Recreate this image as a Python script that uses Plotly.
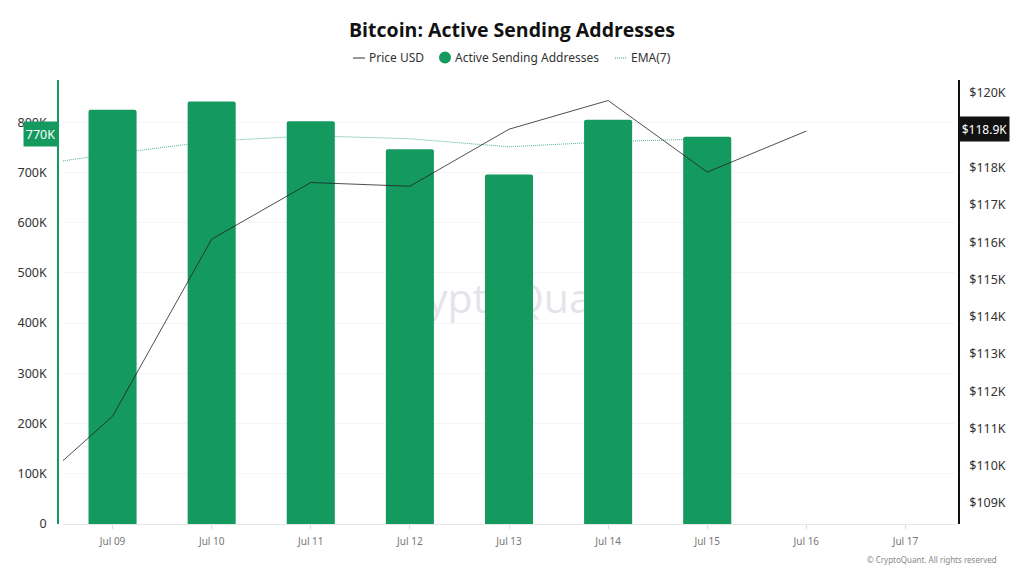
import plotly.graph_objects as go

# values
bar_dates = ['2025-07-09', '2025-07-10', '2025-07-11', '2025-07-12', '2025-07-13', '2025-07-14', '2025-07-15']
active_addresses = [825000, 841000, 802000, 746000, 696000, 805000, 771000]

price_dates = ['2025-07-08', '2025-07-09', '2025-07-10', '2025-07-11', '2025-07-12', '2025-07-13',
               '2025-07-14', '2025-07-15', '2025-07-16']
price_usd = [108950, 111330, 116080, 117600, 117500, 119030, 119800, 117880, 118980]

ema_dates = ['2025-07-08', '2025-07-09', '2025-07-10', '2025-07-11', '2025-07-12', '2025-07-13',
             '2025-07-14', '2025-07-15']
ema_7 = [709000, 737000, 762000, 773000, 767000, 751000, 761000, 767000]

left_ticks = [0, 100000, 200000, 300000, 400000, 500000, 600000, 700000, 800000]
left_labels = ['0', '100K', '200K', '300K', '400K', '500K', '600K', '700K', '800K']
right_ticks = [109000, 110000, 111000, 112000, 113000, 114000, 115000, 116000, 117000, 118000, 119000, 120000]
right_labels = ['$109K', '$110K', '$111K', '$112K', '$113K', '$114K', '$115K', '$116K', '$117K', '$118K', '', '$120K']

GREEN = '#14995f'
EMA_COLOR = '#2a9d78'
LEFT_RANGE = [0, 884000]
RIGHT_RANGE = [108440, 120350]
TICK_FONT = dict(family='Noto Sans', size=12.5, color='#333333')
LEGEND_FONT = dict(family='Noto Sans', size=12, color='#333333')


# plot area runs 63-955 across and 80-524 down
def px_x(px):
    return (px - 63) / 892


def px_y(py):
    return (524 - py) / 444


fig = go.Figure()

# EMA sits on the base axis so the bars cover it
fig.add_trace(go.Scatter(x=ema_dates, y=ema_7, name='EMA(7)', mode='lines', yaxis='y',
                         line=dict(color=EMA_COLOR, width=0.8, dash='1px,1px')))
fig.add_trace(go.Bar(x=bar_dates, y=active_addresses, name='Active Sending Addresses', yaxis='y2',
                     marker=dict(color=GREEN, line=dict(width=0)), width=0.485 * 86400000))
fig.add_trace(go.Scatter(x=price_dates, y=price_usd, name='Price USD', mode='lines', yaxis='y3',
                         line=dict(color='#222222', width=0.8)))


def legend_text(text, px):
    return dict(text=text, xref='paper', x=px_x(px), xanchor='left', yref='paper', y=px_y(57.5),
                yanchor='middle', showarrow=False, font=LEGEND_FONT, borderpad=0)


fig.update_layout(
    width=1024,
    height=576,
    margin=dict(l=63, r=69, t=80, b=52),
    paper_bgcolor='white',
    plot_bgcolor='white',
    barcornerradius=2,
    showlegend=False,
    title=dict(text='<b>Bitcoin: Active Sending Addresses</b>', x=0.5, xref='container', xanchor='center',
               y=0.948, yref='container', yanchor='middle',
               font=dict(family='Open Sans', size=19.5, color='#111111')),
    xaxis=dict(type='date', range=['2025-07-08 12:00', '2025-07-17 12:00'], dtick=86400000,
               tickformat='%b %d', ticks='outside', ticklen=4, tickcolor='#dddddd', ticklabelstandoff=4,
               tickfont=dict(family='Noto Sans', size=10, color='#777777'),
               showline=True, linecolor='#e6e6e6', showgrid=False, zeroline=False),
    yaxis=dict(range=LEFT_RANGE, tickvals=left_ticks, ticktext=left_labels, tickfont=TICK_FONT,
               gridcolor='#f5f5f5', zeroline=False, showline=True, linecolor=GREEN, linewidth=1.5,
               anchor='free', position=0, shift=-5, ticklabelstandoff=8),
    yaxis2=dict(range=LEFT_RANGE, overlaying='y', visible=False),
    yaxis3=dict(range=RIGHT_RANGE, tickvals=right_ticks, ticktext=right_labels, tickfont=TICK_FONT,
                overlaying='y', side='right', showgrid=False, zeroline=False, showline=True,
                linecolor='#111111', linewidth=1.5, anchor='free', position=1, shift=4,
                ticklabelstandoff=7),
    annotations=[
        dict(text='770K', xref='paper', x=px_x(58), xanchor='right', yref='y', y=777000, showarrow=False,
             bgcolor=GREEN, font=dict(family='Noto Sans', size=12.5, color='white'), width=31, height=22),
        dict(text='$118.9K', xref='paper', x=px_x(959), xanchor='left', yref='y3', y=119030, showarrow=False,
             bgcolor='#111111', font=dict(family='Noto Sans', size=12, color='white'), width=47, height=22),
        dict(text='© CryptoQuant. All rights reserved', xref='paper', x=px_x(999), xanchor='right',
             yref='paper', y=px_y(559), yanchor='middle', showarrow=False,
             font=dict(family='Noto Sans', size=8, color='#888888')),
        legend_text('Price USD', 368),
        legend_text('Active Sending Addresses', 454),
        legend_text('EMA(7)', 630),
    ],
    shapes=[
        # watermark goes in a shape label so it stays under the bars
        dict(type='rect', xref='paper', yref='paper', x0=px_x(325), x1=px_x(691), y0=px_y(340), y1=px_y(260),
             layer='below', line=dict(width=0), fillcolor='rgba(0,0,0,0)',
             label=dict(text='CryptoQuant', textposition='middle center',
                        font=dict(family='Open Sans', size=41, color='#e6e4ea'))),
        # legend swatches
        dict(type='line', xref='paper', yref='paper', x0=px_x(353), x1=px_x(365), y0=px_y(58), y1=px_y(58),
             line=dict(color='#333333', width=1)),
        dict(type='circle', xref='paper', yref='paper', x0=px_x(439), x1=px_x(451), y0=px_y(63.5), y1=px_y(51.5),
             fillcolor=GREEN, line=dict(width=0)),
        dict(type='line', xref='paper', yref='paper', x0=px_x(615), x1=px_x(627), y0=px_y(58), y1=px_y(58),
             line=dict(color=EMA_COLOR, width=1, dash='1px,1px')),
    ],
)

# the page's default body margin would push the chart 8px off
fig.write_html("out.html", config=dict(displayModeBar=False),
               post_script="document.body.style.margin='0';")
